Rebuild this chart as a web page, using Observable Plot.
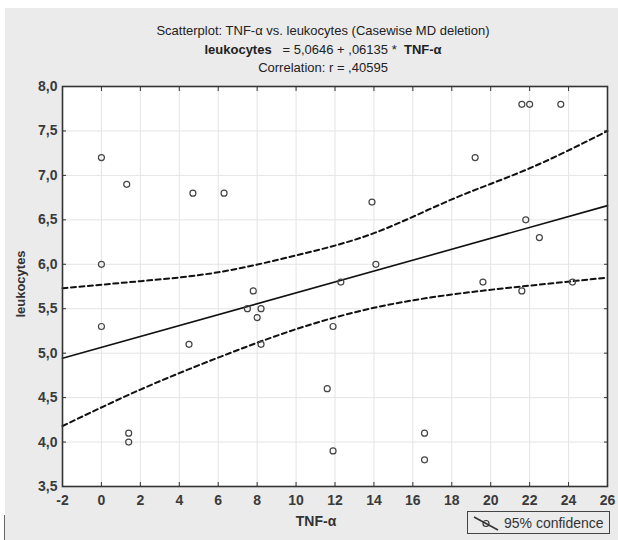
<!DOCTYPE html>
<html>
<head>
<meta charset="utf-8">
<script src="https://cdn.jsdelivr.net/npm/d3@7"></script>
<script src="https://cdn.jsdelivr.net/npm/@observablehq/plot@0.6"></script>
<style>
  html, body { margin: 0; padding: 0; background: #fff; }
  #wrap { position: relative; width: 618px; height: 540px; overflow: hidden; background: #fff;
          font-family: "Liberation Sans", Arial, sans-serif; color: #222; }
  #panel { position: absolute; left: 5px; top: 8px; right: 0; bottom: 0; background: #ebebeb; }
  #chart { position: absolute; left: 0; top: 0; }
  #title { position: absolute; left: 0; top: 22px; width: 646px; text-align: center;
           font-size: 13px; line-height: 18.5px; color: #222; }
  #title b { font-weight: bold; }
  #ylab { position: absolute; left: 20px; top: 284px; transform: translate(-50%, -50%) rotate(-90deg);
          font-size: 13px; font-weight: bold; color: #333; white-space: nowrap; }
  #xlab { position: absolute; left: 316px; top: 521px; transform: translate(-50%, -50%);
          font-size: 14px; font-weight: bold; color: #333; white-space: nowrap; }
  #legend { position: absolute; left: 467px; top: 511px; width: 143px; height: 23px; box-sizing: border-box;
            border: 1px solid #444; display: flex; align-items: center; font-size: 14px; color: #333; }
  #legend svg { margin-left: 4px; margin-right: 2px; }
  #edge { position: absolute; left: 4px; top: 515px; width: 1px; height: 25px; background: #666; }
</style>
</head>
<body>
<div id="wrap">
  <div id="panel"></div>
  <div id="edge"></div>
  <div id="chart"></div>
  <div id="title">
    <div id="t1"></div>
    <div id="t2"></div>
    <div id="t3"></div>
  </div>
  <div id="ylab"></div>
  <div id="xlab"></div>
  <div id="legend"><svg width="30" height="18" viewBox="0 0 30 18">
    <line x1="2" y1="3" x2="26" y2="16" stroke="#333" stroke-width="1.5"/>
    <circle cx="14" cy="9.5" r="3" fill="none" stroke="#333" stroke-width="1.2"/>
  </svg><span id="legtext"></span></div>
</div>
<script>
// ---- Text ----
const titleLine1 = "Scatterplot: TNF-\u03b1  vs. leukocytes (Casewise MD deletion)";
const xLabel = "TNF-\u03b1";
const yLabel = "leukocytes";
const correlationText = "Correlation: r = ,40595";
const legendLabel = "95% confidence";

// ---- Regression (from the chart's equation) ----
const intercept = 5.0646;
const slope = 0.06135;

// ---- Data points ----
const tnf  = [0, 1.3, 4.7, 6.3, 0, 0, 1.4, 1.4, 4.5, 7.8, 7.5, 8.2, 8.0, 8.2, 11.9, 12.3, 11.6, 11.9, 16.6, 16.6, 13.9, 14.1, 19.2, 19.6, 21.6, 22.0, 23.6, 21.8, 22.5, 21.6, 24.2];
const leuk = [7.2, 6.9, 6.8, 6.8, 6.0, 5.3, 4.1, 4.0, 5.1, 5.7, 5.5, 5.5, 5.4, 5.1, 5.3, 5.8, 4.6, 3.9, 4.1, 3.8, 6.7, 6.0, 7.2, 5.8, 7.8, 7.8, 7.8, 6.5, 6.3, 5.7, 5.8];

// ---- 95% confidence band ----
const bandX     = [-2, 2, 6, 10, 14, 18, 22, 26];
const bandUpper = [5.73, 5.81, 5.91, 6.10, 6.35, 6.73, 7.08, 7.50];
const bandLower = [4.18, 4.59, 4.95, 5.27, 5.51, 5.66, 5.76, 5.85];

// ---- Axis ticks ----
const xTicks = [-2, 0, 2, 4, 6, 8, 10, 12, 14, 16, 18, 20, 22, 24, 26];
const yTicks = [3.5, 4.0, 4.5, 5.0, 5.5, 6.0, 6.5, 7.0, 7.5, 8.0];

// text fill
document.getElementById("t1").textContent = titleLine1;
document.getElementById("t2").innerHTML = "<b>leukocytes</b> &nbsp; = 5,0646 + ,06135 * &nbsp;<b>TNF-\u03b1</b>";
document.getElementById("t3").textContent = correlationText;
document.getElementById("ylab").textContent = yLabel;
document.getElementById("xlab").textContent = xLabel;
document.getElementById("legtext").textContent = legendLabel;

const points = tnf.map((x, i) => ({x, y: leuk[i]}));
const lineX = [xTicks[0], xTicks[xTicks.length - 1]];
const fit = lineX.map(x => ({x, y: intercept + slope * x}));
const upper = bandX.map((x, i) => ({x, y: bandUpper[i]}));
const lower = bandX.map((x, i) => ({x, y: bandLower[i]}));
const fmtY = d => d.toFixed(1).replace(".", ",");

const chart = Plot.plot({
  width: 618,
  height: 540,
  marginLeft: 62,
  marginRight: 11,
  marginTop: 86,
  marginBottom: 54,
  style: { background: "transparent", fontFamily: "'Liberation Sans', Arial, sans-serif", fontSize: "14px", color: "#333" },
  x: { domain: [-2, 26] },
  y: { domain: [3.5, 8.0] },
  marks: [
    Plot.frame({ fill: "white", stroke: "none" }),
    Plot.gridX(xTicks, { stroke: "#e4e4e4", strokeOpacity: 1 }),
    Plot.gridY(yTicks, { stroke: "#e4e4e4", strokeOpacity: 1 }),
    Plot.axisX(xTicks, { anchor: "bottom", tickSize: -4, tickPadding: 13, label: null, tickFormat: d => String(d), fontWeight: "bold", fill: "#3a3a3a" }),
    Plot.axisX(xTicks, { anchor: "top", tickSize: -4, label: null, tickFormat: () => "" }),
    Plot.axisY(yTicks, { anchor: "left", tickSize: -4, tickPadding: 9, label: null, tickFormat: fmtY, fontWeight: "bold", fill: "#3a3a3a" }),
    Plot.axisY(yTicks, { anchor: "right", tickSize: -4, label: null, tickFormat: () => "" }),
    Plot.line(upper, { x: "x", y: "y", curve: "natural", stroke: "#111", strokeWidth: 2, strokeDasharray: "5,3.5" }),
    Plot.line(lower, { x: "x", y: "y", curve: "natural", stroke: "#111", strokeWidth: 2, strokeDasharray: "5,3.5" }),
    Plot.line(fit, { x: "x", y: "y", stroke: "#111", strokeWidth: 1.6 }),
    Plot.dot(points, { x: "x", y: "y", r: 3, stroke: "#444", strokeWidth: 1.2, fill: "none" }),
    Plot.frame({ stroke: "#333", strokeWidth: 1.6 })
  ]
});
document.getElementById("chart").appendChild(chart);
</script>
</body>
</html>
